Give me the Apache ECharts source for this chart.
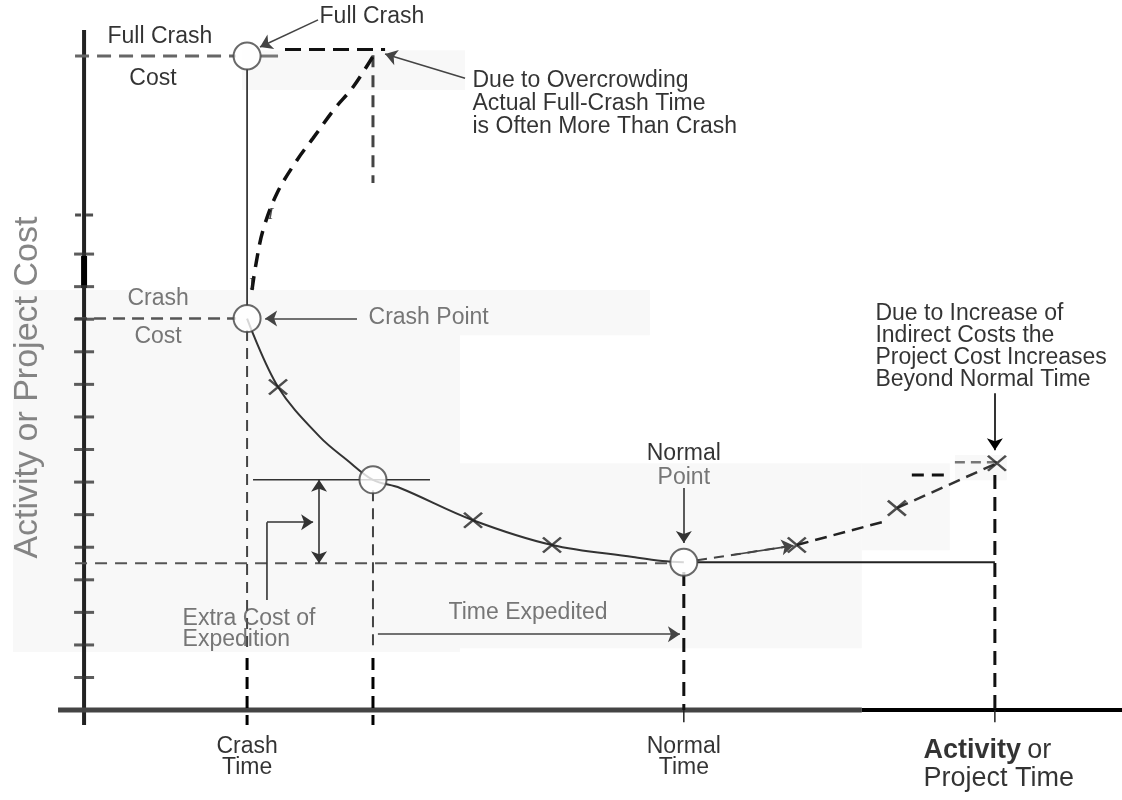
<!DOCTYPE html>
<html><head><meta charset="utf-8">
<script src="https://cdn.jsdelivr.net/npm/echarts@6/dist/echarts.min.js"></script>
<style>html,body{margin:0;padding:0;background:#fff}#c{width:1122px;height:800px}</style>
</head><body><div id="c"></div>
<script>
const FONT = '"Liberation Sans", Arial, Helvetica, sans-serif';

// ---- time axis (x) reference values, time units ----
const crashTime = 7.95;
const expeditedTime = 14.09;
const overcrowdTime = 14.19;
const normalTime = 29.25;
const extendedTime = 44.42;
const timeTickValues = [crashTime, normalTime];
const timeTickLabels = ['Crash\nTime', 'Normal\nTime'];

// ---- cost axis (y) reference values, cost units ----
const costTickValues = [1,2,3,4,5,6,7,8,9,10,11,12,13,14];
const costDashedTick = [15.2];
const fullCrashCost = 20.08;
const crashCost = 12.02;
const expeditedCost = 7.07;
const normalCost = 4.54;
const extendedCost = 7.58;

// ---- key points (time, cost) ----
const keyPoints = [
  [crashTime, fullCrashCost],
  [crashTime, crashCost],
  [expeditedTime, expeditedCost],
  [normalTime, normalCost]
];

// ---- direct time-cost curve, crash -> normal ----
const costCurve = [
  [7.95,12.02],[9.46,9.92],[11.51,8.38],[12.82,7.68],[14.09,7.07],
  [15.41,6.82],[18.97,5.83],[22.82,5.07],[26.77,4.70],[28.2,4.58],[29.25,4.54]
];
// ---- overcrowding curve, crash -> actual full crash ----
const overcrowdCurve = [
  [8.19,12.90],[8.39,13.72],[8.73,14.74],[9.41,15.87],[10.39,16.89],
  [11.17,17.56],[12.24,18.48],[13.12,19.13],[14.19,20.17]
];
// ---- cost beyond normal time ----
const beyondA = [[29.9,4.60],[31.6,4.76],[34.76,5.07]];
const beyondB = [[34.76,5.07],[38.91,5.77]];
const beyondC = [[39.64,6.20],[44.52,7.58]];
// ---- cross marks ----
const crossMarks = [[9.46,9.92],[18.97,5.83],[22.82,5.07],[34.76,5.07],[39.64,6.20],[44.52,7.58]];

function seg(coords, color, width, dash, extra) {
  return Object.assign({
    type: 'line', data: coords, symbol: 'none', silent: true, animation: false,
    lineStyle: { color: color, width: width, type: dash || 'solid', cap: 'butt' }, z: 2
  }, extra || {});
}
function arrow(coords, color, both) {
  return {
    type: 'lines', coordinateSystem: 'cartesian2d', silent: true, animation: false,
    symbol: both ? ['arrow','arrow'] : ['none','arrow'], symbolSize: 12,
    lineStyle: { color: color, width: 1.6, curveness: 0, opacity: 1 },
    data: [{ coords: coords }], z: 4
  };
}
function lab(name, value, opts) {
  return {
    name: name, value: value,
    label: Object.assign({ show: true, formatter: '{b}', position: 'inside', fontFamily: FONT,
      fontSize: 23, color: '#000', lineHeight: 22 }, opts || {})
  };
}

const patch = (x1,y1,x2,y2) => [{ xAxis: x1, yAxis: y1 }, { xAxis: x2, yAxis: y2 }];

const labels = [
  lab('Full Crash', [3.70, 20.66]),
  lab('Cost', [3.36, 19.37]),
  lab('Full Crash', [14.04, 21.28]),
  lab('Due to Overcrowding\nActual Full-Crash Time\nis Often More Than Crash', [18.92, 18.62],
      { position: 'right', distance: 0, lineHeight: 23 }),
  lab('Crash', [3.61, 12.62], { color: '#555' }),
  lab('Cost', [3.61, 11.45], { color: '#555' }),
  lab('Crash Point', [13.85, 12.04], { position: 'right', distance: 0, color: '#555' }),
  lab('Normal', [normalTime, 7.86]),
  lab('Point', [normalTime, 7.15], { color: '#555' }),
  lab('Due to Increase of\nIndirect Costs the\nProject Cost Increases\nBeyond Normal Time', [38.57, 11.16],
      { position: 'right', distance: 0, lineHeight: 22 }),
  lab('Extra Cost of\nExpedition', [4.78, 2.50], { position: 'right', distance: 0, color: '#555', lineHeight: 21 }),
  lab('Time Expedited', [21.65, 2.98], { color: '#555' }),
  lab(timeTickLabels[0], [timeTickValues[0], -1.46], { lineHeight: 21 }),
  lab(timeTickLabels[1], [timeTickValues[1], -1.46], { lineHeight: 21 }),
  lab('Activity or Project Time', [40.91, -1.67], {
    position: 'right', distance: 0,
    formatter: '{b|Activity} {n|or}\n{n|Project Time}',
    rich: { b: { fontFamily: FONT, fontSize: 27, fontWeight: 'bold', lineHeight: 28, color: '#000' },
            n: { fontFamily: FONT, fontSize: 27, lineHeight: 28, color: '#000' } }
  }),
  lab('Activity or Project Cost', [-2.74, 9.90], { rotate: 90, fontSize: 34, color: '#666', lineHeight: 34 }),
  lab('I', [8.2, 13.05], { fontFamily: '"Liberation Serif", serif', fontSize: 17, color: '#222' }),
  lab('I', [9.1, 15.2], { fontFamily: '"Liberation Serif", serif', fontSize: 17, fontStyle: 'italic', color: '#222' })
];

const series = [
  // scan background patches
  { type: 'line', data: [], silent: true, markArea: { silent: true, itemStyle: { color: '#f8f8f8' }, data: [
      patch(-3.46, 12.90, 18.33, 1.78),
      patch(15.41, 7.58, 37.93, 1.90),
      patch(7.61, 12.90, 27.60, 11.51),
      patch(7.70, 20.26, 18.58, 19.04),
      patch(37.93, 7.58, 42.22, 4.91),
      patch(42.47, 7.83, 45.0, 7.06)
  ] }, z: 0 },
  // axes
  seg([[0, -0.46], [0, 20.88]], '#222', 4),
  seg([[0, 12.96], [0, 13.94]], '#000', 6),
  seg([[-1.27, 0], [37.93, 0]], '#444', 5),
  seg([[37.93, 0], [50.62, 0]], '#000', 4),
  { type: 'scatter', silent: true, animation: false, symbol: 'rect', symbolSize: [20, 3],
    itemStyle: { color: '#333' }, data: costTickValues.map(v => [0, v]), z: 3 },
  { type: 'scatter', silent: true, animation: false, symbol: 'path://M0,0H6V3H0Z M11,0H18V3H11Z', symbolSize: [18, 3],
    itemStyle: { color: '#222' }, data: costDashedTick.map(v => [0, v]), z: 3 },
  // reference lines
  seg([[-0.44, fullCrashCost], [7.4, fullCrashCost]], '#666', 3, [14, 8]),
  seg([[8.6, fullCrashCost], [9.46, fullCrashCost]], '#777', 3),
  seg([[9.8, 20.28], [14.68, 20.28]], '#111', 3, [16, 8]),
  seg([[crashTime, 19.7], [crashTime, 12.4]], '#111', 1.5),
  seg([[-0.44, crashCost], [7.4, crashCost]], '#555', 2.5, [12, 7]),
  seg([[expeditedTime, 20.1], [expeditedTime, 16.18]], '#444', 3, [12, 8]),
  seg([[8.24, expeditedCost], [16.87, expeditedCost]], '#333', 1.5),
  seg([[-0.44, 4.51], [28.72, 4.51]], '#555', 2, [12, 8]),
  seg([[29.89, normalCost], [extendedTime, normalCost]], '#222', 2),
  seg([[crashTime, 11.67], [crashTime, 1.78]], '#444', 2, [11, 7]),
  seg([[crashTime, 1.6], [crashTime, -0.46]], '#000', 3, [12, 7]),
  seg([[expeditedTime, 6.75], [expeditedTime, 1.78]], '#444', 2, [11, 7]),
  seg([[expeditedTime, 1.6], [expeditedTime, -0.46]], '#000', 3, [12, 7]),
  seg([[normalTime, 4.24], [normalTime, 0]], '#111', 3, [14, 8]),
  seg([[normalTime, 0], [normalTime, -0.37]], '#222', 1.5),
  seg([[extendedTime, 7.22], [extendedTime, 0]], '#111', 3, [14, 8]),
  seg([[extendedTime, 0], [extendedTime, -0.37]], '#222', 1.5),
  // curves
  seg(costCurve, '#333', 2, 'solid', { smooth: 0.35 }),
  seg(overcrowdCurve, '#111', 3.5, [14, 9], { smooth: 0.35 }),
  seg(beyondA, '#444', 2, [10, 7], { smooth: 0.3 }),
  seg(beyondB, '#222', 2.5, [12, 7]),
  seg(beyondC, '#333', 2.5, [12, 7]),
  seg([[40.37, 7.22], [42.08, 7.22]], '#111', 3, [12, 8]),
  seg([[42.47, 7.61], [44.52, 7.61]], '#777', 2.5, [10, 6]),
  // arrows
  arrow([[11.41, 21.19], [8.58, 20.36]], '#444'),
  arrow([[18.58, 19.40], [14.68, 20.14]], '#444'),
  arrow([[13.31, crashCost], [8.83, crashCost]], '#444'),
  arrow([[normalTime, 6.82], [normalTime, 5.13]], '#333'),
  arrow([[extendedTime, 9.73], [extendedTime, 7.98]], '#000'),
  arrow([[14.33, 2.33], [29.06, 2.33]], '#444'),
  arrow([[11.46, expeditedCost], [11.46, 4.51]], '#333', true),
  seg([[8.92, 3.38], [8.92, 5.77]], '#333', 1.6),
  arrow([[8.92, 5.77], [11.17, 5.77]], '#333'),
  arrow([[31.6, 4.76], [34.6, 5.05]], '#444'),
  // crosses
  { type: 'scatter', silent: true, animation: false, symbol: 'path://M0,0L16,14M0,14L16,0', symbolSize: [18, 15],
    itemStyle: { color: 'rgba(0,0,0,0)', borderColor: '#222', borderWidth: 2.5 }, data: crossMarks, z: 5 },
  // circles
  { type: 'scatter', silent: true, animation: false, symbol: 'circle', symbolSize: 27,
    itemStyle: { color: '#fff', borderColor: '#444', borderWidth: 2 }, data: keyPoints, z: 6 },
  // texts
  { type: 'scatter', silent: true, animation: false, symbolSize: 1, itemStyle: { color: 'rgba(0,0,0,0)' },
    data: labels, z: 7 }
];

const chart = echarts.init(document.getElementById('c'), null, { renderer: 'canvas' });
chart.setOption({
  backgroundColor: '#fff',
  animation: false,
  grid: { left: 0, right: 0, top: 0, bottom: 0 },
  xAxis: { type: 'value', min: -4.1, max: 50.62, show: false },
  yAxis: { type: 'value', min: -2.76, max: 21.8, show: false },
  series: series
});
</script></body></html>
